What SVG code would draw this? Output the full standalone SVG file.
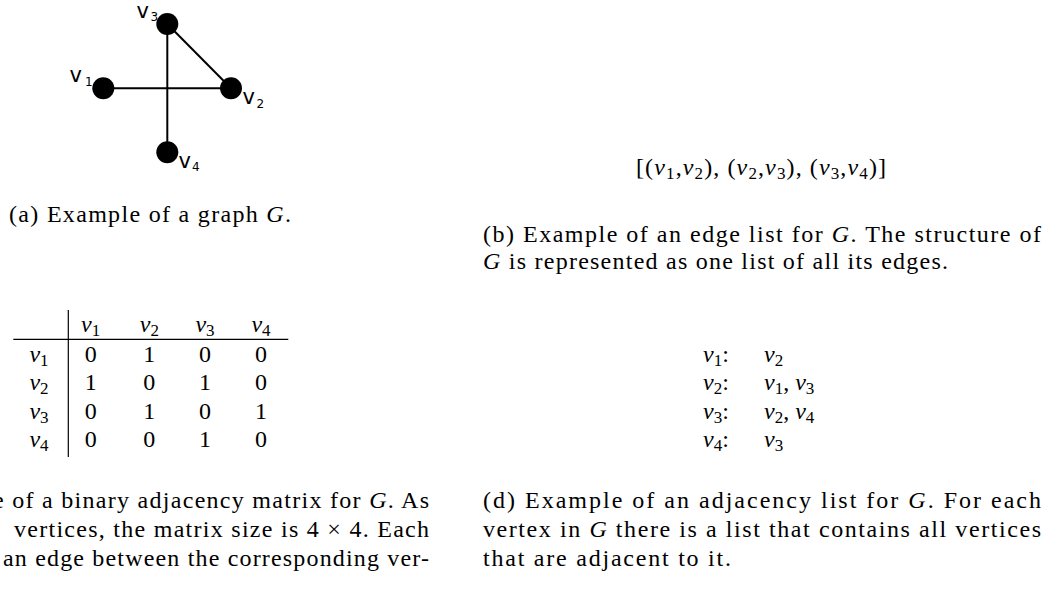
<svg xmlns="http://www.w3.org/2000/svg" width="1051" height="602" viewBox="0 0 1051 602">
<style>
.t{font-family:"Liberation Serif","Times New Roman",serif;font-size:24px;fill:#000}
.c{text-anchor:middle}
.m{font-style:italic}
.s{font-size:17px}
.lbl{font-family:"DejaVu Sans",sans-serif;font-size:21px;fill:#000}
.ls{font-size:12px}
.edge{stroke:#000;stroke-width:2;fill:none}
.node{fill:#000}
.rule{stroke:#000;stroke-width:1.2}
</style>
<rect width="1051" height="602" fill="#fff"/>
<g id="connectors">
<line class="edge" x1="103.3" y1="88.3" x2="231" y2="88.3"/>
<line class="edge" x1="167.3" y1="24" x2="167.3" y2="152.3"/>
<line class="edge" x1="167.3" y1="24" x2="231" y2="88.3"/>
</g>
<g id="v1"><circle class="node" cx="103.3" cy="88.3" r="11"/><text class="lbl" x="69.5" y="82">v<tspan class="ls" x="85" y="85.5">1</tspan></text></g>
<g id="v2"><circle class="node" cx="231" cy="88.3" r="11"/><text class="lbl" x="242.5" y="104">v<tspan class="ls" x="256.5" y="107.5">2</tspan></text></g>
<g id="v3"><circle class="node" cx="167.3" cy="24" r="11"/><text class="lbl" x="136.5" y="17.5">v<tspan class="ls" x="150.5" y="21">3</tspan></text></g>
<g id="v4"><circle class="node" cx="167.3" cy="152.3" r="11"/><text class="lbl" x="178.5" y="167.5">v<tspan class="ls" x="192" y="171">4</tspan></text></g>

<text class="t" x="9" y="222" textLength="282" lengthAdjust="spacing">(a) Example of a graph <tspan class="m">G</tspan>.</text>

<text class="t" x="636" y="175" textLength="250" lengthAdjust="spacing">[(<tspan class="m">v</tspan><tspan class="s" dy="4">1</tspan><tspan dy="-4">,</tspan><tspan class="m">v</tspan><tspan class="s" dy="4">2</tspan><tspan dy="-4">), (</tspan><tspan class="m">v</tspan><tspan class="s" dy="4">2</tspan><tspan dy="-4">,</tspan><tspan class="m">v</tspan><tspan class="s" dy="4">3</tspan><tspan dy="-4">), (</tspan><tspan class="m">v</tspan><tspan class="s" dy="4">3</tspan><tspan dy="-4">,</tspan><tspan class="m">v</tspan><tspan class="s" dy="4">4</tspan><tspan dy="-4">)]</tspan></text>

<text class="t" x="483" y="242" textLength="558" lengthAdjust="spacing">(b) Example of an edge list for <tspan class="m">G</tspan>.  The structure of</text>
<text class="t" x="483" y="269" textLength="465" lengthAdjust="spacing"><tspan class="m">G</tspan> is represented as one list of all its edges.</text>

<line class="rule" x1="68.3" y1="310" x2="68.3" y2="457"/>
<line class="rule" x1="13.3" y1="339.3" x2="288.3" y2="339.3"/>
<text class="t c" x="90.7" y="332"><tspan class="m">v</tspan><tspan class="s" dy="4">1</tspan></text>
<text class="t c" x="149.3" y="332"><tspan class="m">v</tspan><tspan class="s" dy="4">2</tspan></text>
<text class="t c" x="205" y="332"><tspan class="m">v</tspan><tspan class="s" dy="4">3</tspan></text>
<text class="t c" x="261" y="332"><tspan class="m">v</tspan><tspan class="s" dy="4">4</tspan></text>
<text class="t c" x="39" y="362"><tspan class="m">v</tspan><tspan class="s" dy="4">1</tspan></text>
<text class="t c" x="39" y="390"><tspan class="m">v</tspan><tspan class="s" dy="4">2</tspan></text>
<text class="t c" x="39" y="418.5"><tspan class="m">v</tspan><tspan class="s" dy="4">3</tspan></text>
<text class="t c" x="39" y="447"><tspan class="m">v</tspan><tspan class="s" dy="4">4</tspan></text>
<text class="t c" x="90.7" y="362">0</text><text class="t c" x="149.3" y="362">1</text><text class="t c" x="205" y="362">0</text><text class="t c" x="261" y="362">0</text>
<text class="t c" x="90.7" y="390">1</text><text class="t c" x="149.3" y="390">0</text><text class="t c" x="205" y="390">1</text><text class="t c" x="261" y="390">0</text>
<text class="t c" x="90.7" y="418.5">0</text><text class="t c" x="149.3" y="418.5">1</text><text class="t c" x="205" y="418.5">0</text><text class="t c" x="261" y="418.5">1</text>
<text class="t c" x="90.7" y="447">0</text><text class="t c" x="149.3" y="447">0</text><text class="t c" x="205" y="447">1</text><text class="t c" x="261" y="447">0</text>

<text class="t" x="703" y="362"><tspan class="m">v</tspan><tspan class="s" dy="4">1</tspan><tspan dy="-4">:</tspan></text>
<text class="t" x="703" y="390"><tspan class="m">v</tspan><tspan class="s" dy="4">2</tspan><tspan dy="-4">:</tspan></text>
<text class="t" x="703" y="418.5"><tspan class="m">v</tspan><tspan class="s" dy="4">3</tspan><tspan dy="-4">:</tspan></text>
<text class="t" x="703" y="447"><tspan class="m">v</tspan><tspan class="s" dy="4">4</tspan><tspan dy="-4">:</tspan></text>
<text class="t" x="764" y="362"><tspan class="m">v</tspan><tspan class="s" dy="4">2</tspan></text>
<text class="t" x="764" y="390"><tspan class="m">v</tspan><tspan class="s" dy="4">1</tspan><tspan dy="-4">, </tspan><tspan class="m">v</tspan><tspan class="s" dy="4">3</tspan></text>
<text class="t" x="764" y="418.5"><tspan class="m">v</tspan><tspan class="s" dy="4">2</tspan><tspan dy="-4">, </tspan><tspan class="m">v</tspan><tspan class="s" dy="4">4</tspan></text>
<text class="t" x="764" y="447"><tspan class="m">v</tspan><tspan class="s" dy="4">3</tspan></text>

<text class="t" x="-7" y="508" textLength="436" lengthAdjust="spacing">e of a binary adjacency matrix for <tspan class="m">G</tspan>.  As</text>
<text class="t" x="14" y="537" textLength="415" lengthAdjust="spacing">vertices, the matrix size is 4 × 4.  Each</text>
<text class="t" x="3" y="566" textLength="426" lengthAdjust="spacing">an edge between the corresponding ver-</text>

<text class="t" x="483" y="508" textLength="558" lengthAdjust="spacing">(d) Example of an adjacency list for <tspan class="m">G</tspan>.  For each</text>
<text class="t" x="483" y="537" textLength="558" lengthAdjust="spacing">vertex in <tspan class="m">G</tspan> there is a list that contains all vertices</text>
<text class="t" x="483" y="566" textLength="248" lengthAdjust="spacing">that are adjacent to it.</text>
</svg>
